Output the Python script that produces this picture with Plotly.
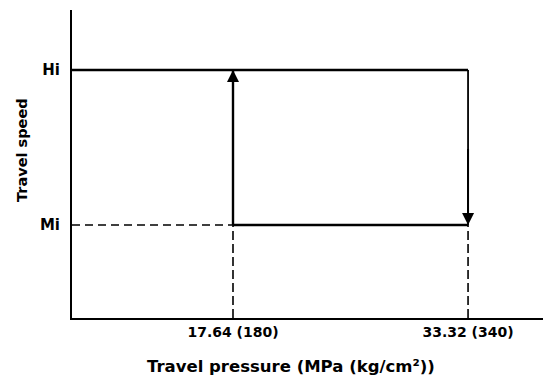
import plotly.graph_objects as go

# Data
speed_levels = {"Mi": 1.0, "Hi": 2.0}
pressure_up = 17.64      # MPa, shift Mi -> Hi
pressure_down = 33.32    # MPa, shift Hi -> Mi
x_tick_vals = [17.64, 33.32]
x_tick_text = ["17.64 (180)", "33.32 (340)"]
y_tick_text = ["Mi", "Hi"]
x_title = "Travel pressure (MPa (kg/cm²))"
y_title = "Travel speed"

mi = speed_levels["Mi"]
hi = speed_levels["Hi"]
x_min, x_max = 6.9, 38.32
y_min, y_max = 0.4, 2.387

W, H = 543, 378
ML, MR, MT, MB = 72, 0, 10, 60

fig = go.Figure()
solid = dict(color="black", width=2.4)
dashed_h = dict(color="black", width=1.6, dash="8px,5px")
dashed_v = dict(color="black", width=1.6, dash="9px,4px")

fig.add_trace(go.Scatter(x=[x_min, pressure_down], y=[hi, hi], mode="lines", line=solid))
fig.add_trace(go.Scatter(x=[pressure_up, pressure_down], y=[mi, mi], mode="lines", line=solid))
fig.add_trace(go.Scatter(x=[x_min, pressure_up], y=[mi, mi], mode="lines", line=dashed_h))
fig.add_trace(go.Scatter(x=[pressure_up, pressure_up], y=[mi, hi], mode="lines", line=solid))
fig.add_trace(go.Scatter(x=[pressure_down, pressure_down], y=[hi, mi], mode="lines",
                         line=dict(color="black", width=1.8)))
fig.add_trace(go.Scatter(x=[pressure_up, pressure_up], y=[y_min, mi], mode="lines", line=dashed_v))
fig.add_trace(go.Scatter(x=[pressure_down, pressure_down], y=[y_min, mi], mode="lines", line=dashed_v))

# arrows
fig.add_annotation(x=pressure_up, y=hi, ax=pressure_up, ay=mi + 0.5, xref="x", yref="y",
                   axref="x", ayref="y", showarrow=True, arrowhead=2, arrowsize=1.2,
                   arrowwidth=2, arrowcolor="black", text="")
fig.add_annotation(x=pressure_down, y=mi, ax=pressure_down, ay=hi - 0.5, xref="x", yref="y",
                   axref="x", ayref="y", showarrow=True, arrowhead=2, arrowsize=1.2,
                   arrowwidth=2, arrowcolor="black", text="")

plot_w = W - ML - MR
plot_h = H - MT - MB
fig.add_annotation(text=y_title, x=(22 - ML) / plot_w, y=(H - MB - 150) / plot_h,
                   xref="paper", yref="paper", showarrow=False, textangle=-90,
                   xanchor="center", yanchor="middle",
                   font=dict(family="DejaVu Sans", size=14.5, color="black", weight="bold"))
fig.add_annotation(text=x_title, x=(291 - ML) / plot_w, y=(H - MB - 366) / plot_h,
                   xref="paper", yref="paper", showarrow=False,
                   xanchor="center", yanchor="middle",
                   font=dict(family="DejaVu Sans", size=16.5, color="black", weight="bold"))

fig.update_layout(
    width=W, height=H,
    margin=dict(l=ML, r=MR, t=MT, b=MB),
    paper_bgcolor="white", plot_bgcolor="white",
    showlegend=False,
    xaxis=dict(range=[x_min, x_max], tickvals=x_tick_vals, ticktext=x_tick_text,
               showgrid=False, zeroline=False, showline=True, linecolor="black", linewidth=2,
               ticks="", ticklabelstandoff=0,
               tickfont=dict(family="DejaVu Sans", size=14, color="black", weight="bold")),
    yaxis=dict(range=[y_min, y_max], tickvals=[mi, hi], ticktext=y_tick_text,
               showgrid=False, zeroline=False, showline=True, linecolor="black", linewidth=2,
               ticks="", ticklabelstandoff=7,
               tickfont=dict(family="DejaVu Sans", size=15, color="black", weight="bold")),
)

fig.write_html("out.html", config={"displayModeBar": False},
               post_script="document.body.style.margin='0';")
